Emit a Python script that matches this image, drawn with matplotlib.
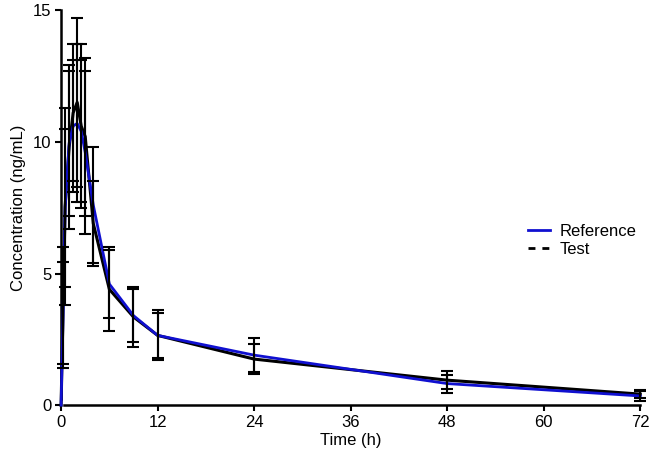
import matplotlib
matplotlib.use("Agg")
import matplotlib.pyplot as plt
from matplotlib.lines import Line2D
import numpy as np

plt.rcParams['font.family'] = ['Liberation Sans', 'DejaVu Sans']

time_h = [0, 0.25, 0.5, 1, 1.5, 2, 2.5, 3, 4, 6, 9, 12, 24, 48, 72]
ref_mean = [0, 3.5, 7.5, 9.95, 10.6, 10.7, 10.4, 9.6, 7.6, 4.6, 3.4, 2.65, 1.9, 0.82, 0.35]
ref_sd = [0, 1.95, 3.0, 2.75, 2.5, 3.0, 2.7, 3.1, 2.2, 1.3, 1.0, 0.85, 0.65, 0.34, 0.18]
test_mean = [0, 3.7, 7.55, 9.8, 11.1, 11.5, 10.6, 10.2, 6.9, 4.4, 3.35, 2.65, 1.75, 0.95, 0.42]
test_sd = [0, 2.3, 3.75, 3.1, 2.6, 3.2, 3.1, 3.0, 1.6, 1.6, 1.15, 0.95, 0.58, 0.35, 0.14]
x_ticks = [0, 12, 24, 36, 48, 60, 72]
y_ticks = [0, 5, 10, 15]

fig = plt.figure(figsize=(6.5, 4.62), dpi=100)
ax = fig.add_axes([0.094, 0.123, 0.891, 0.855])

ax.errorbar(time_h[1:], test_mean[1:], yerr=test_sd[1:], fmt='none', ecolor='black',
            elinewidth=1.5, capsize=4, capthick=1.5, zorder=4, clip_on=False)
ax.errorbar(time_h[1:], ref_mean[1:], yerr=ref_sd[1:], fmt='none', ecolor='black',
            elinewidth=1.5, capsize=4, capthick=1.5, zorder=4, clip_on=False)
ax.plot(time_h, test_mean, color='black', lw=2.2, zorder=2, clip_on=False)
ax.plot(time_h, ref_mean, color='#1010d0', lw=2.0, zorder=3, clip_on=False)

ax.set_xlim(0, 72)
ax.set_ylim(0, 15)
ax.set_xticks(x_ticks)
ax.set_yticks(y_ticks)
ax.tick_params(axis='both', direction='out', length=4, width=1.5, labelsize=12, pad=3)

for s in ['top', 'right']:
    ax.spines[s].set_visible(False)
for s in ['left', 'bottom']:
    ax.spines[s].set_linewidth(1.8)
ax.spines['bottom'].set_bounds(0.35, 72)
ax.spines['left'].set_bounds(0.25, 15)

ax.set_xlabel('Time (h)', fontsize=12, labelpad=2)
ax.set_ylabel('Concentration (ng/mL)', fontsize=12, labelpad=5)

handles = [Line2D([], [], color='#1010d0', lw=2),
           Line2D([], [], color='black', lw=2, linestyle=(0, (2.5, 2.5)))]
ax.legend(handles, ['Reference', 'Test'], loc='upper left', bbox_to_anchor=(0.795, 0.475),
          frameon=False, fontsize=12, handlelength=1.3, handletextpad=0.6,
          labelspacing=0.15, borderaxespad=0)

fig.savefig('out.png', dpi=100)
